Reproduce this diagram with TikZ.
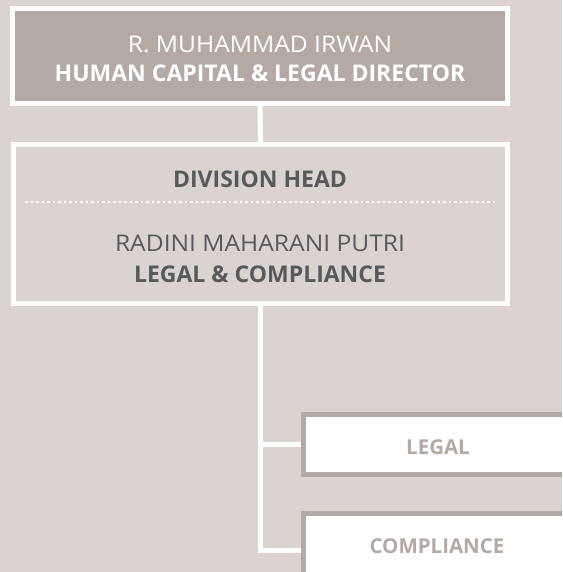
\documentclass[tikz,border=0pt]{standalone}
\usepackage{fontspec}
\setmainfont{Open Sans}
\newfontfamily\regwide[FakeStretch=1.07]{Open Sans}
\definecolor{bgc}{HTML}{DAD3D0}
\definecolor{boxc}{HTML}{B3AAA5}
\definecolor{txtc}{HTML}{58595B}
\tikzset{
  topbox/.style={draw=white, fill=boxc, line width=5pt, minimum width=495pt, minimum height=95pt, inner sep=0pt},
  divbox/.style={draw=white, fill=bgc, line width=5pt, minimum width=494pt, minimum height=159pt, inner sep=0pt},
  unitbox/.style={draw=boxc, fill=white, line width=5pt, minimum width=269pt, inner sep=0pt},
  conn/.style={draw=white, line width=5pt},
  regtxt/.style={font=\regwide\fontsize{23}{29}\selectfont, inner sep=0pt, anchor=base},
  boldtxt/.style={font=\fontsize{23}{29}\selectfont\bfseries, inner sep=0pt, anchor=base},
  smalltxt/.style={font=\fontsize{20.5}{25}\selectfont\bfseries, text=boxc, inner sep=0pt, anchor=base},
  dotline/.style={draw=white, line width=2.6pt, dash pattern=on 2.6pt off 2.9pt}
}
\begin{document}
\begin{tikzpicture}[x=1pt, y=-1pt]
\useasboundingbox (0,0) rectangle (562,572);
\clip (0,0) rectangle (562,572);
\fill[bgc] (0,0) rectangle (562,572);
% boxes
\node[topbox] (top) at (260,56) {};
\node[divbox] (div) at (260.5,224) {};
\node[unitbox, minimum height=60pt] (legal) at (438,444.5) {};
\node[unitbox, minimum height=73pt] (comp) at (438,550) {};
% connectors
\draw[conn] (top.south) -- (div.north);
\draw[conn] (div.south) |- (legal.west);
\draw[conn] (div.south) |- (comp.west);
% dotted separator
\coordinate (dl) at (25,202);
\coordinate (dr) at (497,202);
\draw[dotline] (dl) -- (dr);
% texts
\node[regtxt, text=white] (n1) at (260,53) {R. MUHAMMAD IRWAN};
\node[boldtxt, text=white] (n2) at (260,82) {HUMAN CAPITAL \& LEGAL DIRECTOR};
\node[boldtxt, text=txtc] (n3) at (260,187) {DIVISION HEAD};
\node[regtxt, text=txtc] (n4) at (260,251) {RADINI MAHARANI PUTRI};
\node[boldtxt, text=txtc] (n5) at (260,282) {LEGAL \& COMPLIANCE};
\node[smalltxt] (t1) at (438,454) {LEGAL};
\node[smalltxt] (t2) at (437,553) {COMPLIANCE};
\end{tikzpicture}
\end{document}
